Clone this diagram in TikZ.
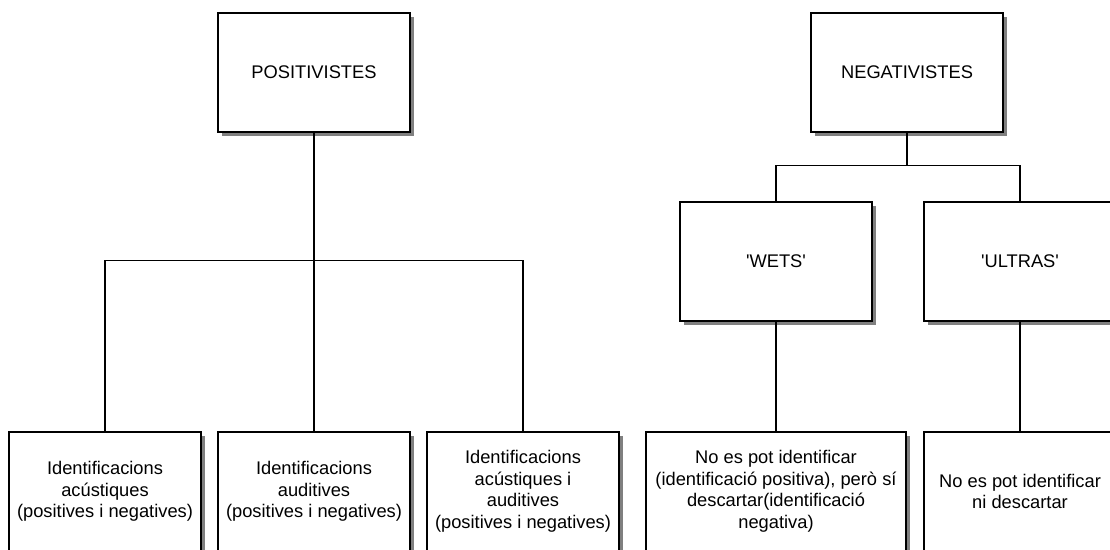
\documentclass[tikz,border=0pt]{standalone}
\usepackage{fontspec}
\setmainfont{Liberation Sans}
\usetikzlibrary{shadows}
\begin{document}
\begin{tikzpicture}[x=1pt,y=-1pt,
  box/.style={draw=black, line width=1.5pt, fill=white, rectangle,
    minimum width=192pt, minimum height=119pt, inner sep=2pt, align=center,
    font=\fontsize{18.3}{21.5}\selectfont,
    drop shadow={shadow xshift=3.5pt, shadow yshift=-3.5pt, fill=black!50, opacity=1}},
  link/.style={draw=black, line width=1.4pt}]
\useasboundingbox (0,0) rectangle (1110,549);
\clip (0,0) rectangle (1110,549);
% top level
\node[box] (pos) at (314,72.5) {POSITIVISTES};
\node[box] (neg) at (907,72.5) {NEGATIVISTES};
% second level of the right branch
\node[box] (wets) at (776,261.5) {\textquotesingle WETS\textquotesingle};
\node[box] (ultras) at (1020,261.5) {\textquotesingle ULTRAS\textquotesingle};
% leaves
\node[box] (b1) at (105,491.5) {Identificacions\\acústiques\\(positives i negatives)};
\node[box] (b2) at (314,491.5) {Identificacions\\auditives\\(positives i negatives)};
\node[box] (b3) at (523,491.5) {Identificacions\\acústiques i\\auditives\\(positives i negatives)};
\node[box, minimum width=260pt] (b4) at (776,491.5) {No es pot identificar\\(identificació positiva), però sí\\descartar(identificació\\negativa)};
\node[box] (b5) at (1020,491.5) {No es pot identificar\\ni descartar};
% connectors
\path (pos.south) ++(0,128) coordinate (pj);
\path (neg.south) ++(0,33) coordinate (nj);
\draw[link] (pos.south) -- (b2.north);
\draw[link] (b1.north) |- (pj) -| (b3.north);
\draw[link] (neg.south) -- (nj);
\draw[link] (wets.north) |- (nj) -| (ultras.north);
\draw[link] (wets.south) -- (b4.north);
\draw[link] (ultras.south) -- (b5.north);
\end{tikzpicture}
\end{document}
